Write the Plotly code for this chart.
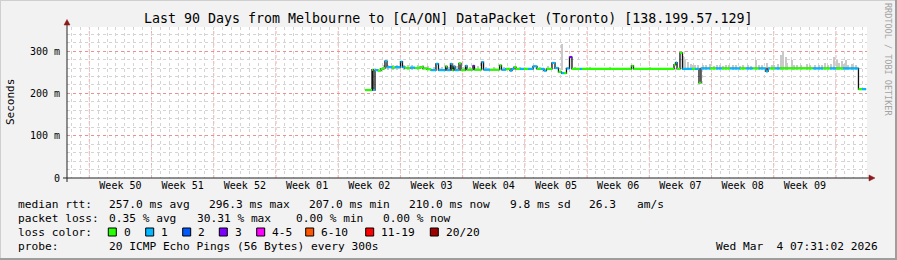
import plotly.graph_objects as go

# ---------------- data ----------------
# median RTT as a step series: segment start (days since graph start), median (ms), loss class index
seg_day = [33.52, 34.31, 34.43, 34.65, 34.99, 35.32, 35.55, 35.77, 36.00, 36.56,
           36.90, 37.52, 37.74, 38.02, 38.59, 39.15, 39.71, 40.05, 40.50, 40.95,
           41.51, 41.79, 42.58, 42.75, 43.14, 43.31, 43.48, 43.65, 44.10, 44.32,
           44.83, 45.00, 45.67, 45.84, 46.63, 46.86, 47.59, 48.66, 48.88, 49.39,
           49.84, 50.06, 50.29, 50.51, 50.96, 51.41, 51.86, 52.43, 52.87, 53.32,
           53.66, 53.94, 54.56, 54.90, 55.29, 55.63, 55.91, 56.19, 56.53, 56.81,
           57.71, 57.94, 63.50, 63.73, 68.29, 68.46, 68.63, 68.96, 69.24, 70.31,
           70.65, 71.10, 71.32, 72.34, 73.01, 73.69, 74.59, 75.71, 76.38, 77.17,
           77.84, 78.63, 78.86, 79.09, 79.65, 80.21, 83.92, 85.05, 85.84, 86.51,
           87.30, 89.04, 89.44]
seg_ms = [208, 256, 208, 255, 254, 258, 260, 276, 262, 261,
          262, 275, 262, 260, 261, 260, 262, 259, 257, 255,
          270, 255, 264, 255, 270, 255, 264, 255, 271, 255,
          265, 256, 265, 256, 274, 256, 256, 266, 256, 258,
          254, 258, 262, 258, 258, 258, 258, 264, 258, 258,
          254, 258, 272, 260, 251, 248, 248, 259, 286, 258,
          258, 258, 265, 258, 268, 273, 258, 296, 258, 258,
          258, 225, 259, 259, 259, 259, 259, 259, 259, 259,
          259, 252, 259, 259, 259, 259, 259, 259, 259, 259,
          259, 210, 210]
seg_loss = [0, 0, 1, 1, 0, 0, 0, 1, 1, 0,
            1, 1, 1, 0, 1, 0, 0, 0, 0, 1,
            1, 1, 0, 1, 1, 0, 1, 1, 0, 0,
            1, 0, 3, 0, 1, 1, 0, 0, 1, 0,
            1, 1, 0, 0, 1, 0, 1, 1, 0, 1,
            1, 0, 1, 1, 0, 1, 0, 1, 3, 0,
            1, 0, 0, 0, 0, 1, 0, 0, 1, 0,
            1, 0, 1, 0, 1, 0, 1, 0, 1, 0,
            1, 1, 1, 0, 1, 0, 1, 0, 1, 0,
            1, 0, 1]
end_day = 89.90

# smoke (spread of the individual pings): day, lower and upper rtt (ms)
smoke_day = [35.66, 36.11, 36.67, 37.12, 37.91, 38.36, 38.81, 39.48, 40.05, 40.61,
             41.29, 42.19, 42.97, 43.87, 44.55, 45.34, 46.24, 47.14, 48.04, 49.16,
             50.96, 53.21, 54.11, 55.72, 57.15, 58.84, 61.09, 65.59,
             69.34, 69.57, 69.85, 70.18, 70.40, 70.65, 71.00, 71.54, 71.90, 72.34,
             72.79, 73.10, 73.46, 73.80, 74.14, 74.50, 74.92, 75.30, 75.71, 76.10,
             76.61, 77.00, 77.59, 77.90, 78.19, 78.72, 79.31, 79.60, 79.99, 80.33,
             80.61, 80.89, 81.00, 81.53, 81.80, 82.13, 82.60, 83.22, 83.60, 84.15,
             84.60, 85.00, 85.28, 85.60, 85.95, 86.29, 86.63, 86.90, 87.19, 87.40,
             87.64, 87.90, 88.31, 88.50, 88.76]
smoke_lo = [256] * len(smoke_day)
smoke_hi = [268, 266, 267, 268, 266, 268, 266, 268, 267, 265,
            262, 262, 263, 264, 262, 263, 264, 262, 263, 262,
            263, 263, 265, 318, 263, 262, 262, 262,
            288, 280, 275, 270, 268, 268, 266, 266, 267, 270,
            265, 267, 268, 265, 266, 267, 268, 266, 265, 267,
            266, 265, 280, 268, 266, 272, 268, 266, 270, 290,
            301, 285, 272, 278, 268, 266, 267, 270, 268, 266,
            267, 268, 272, 266, 270, 285, 280, 272, 276, 270,
            278, 268, 270, 266, 268]

week_bounds = [2.51, 9.51, 16.51, 23.51, 30.51, 37.51, 44.51, 51.51, 58.51,
               65.51, 72.51, 79.51, 86.51]
week_mids = [6.01, 13.01, 20.01, 27.01, 34.01, 41.01, 48.01, 55.01, 62.01,
             69.01, 76.01, 83.01]
week_labels = ["Week 50", "Week 51", "Week 52", "Week 01", "Week 02", "Week 03",
               "Week 04", "Week 05", "Week 06", "Week 07", "Week 08", "Week 09"]

y_tickvals = [0, 100, 200, 300]
y_ticktext = ["0", "100 m", "200 m", "300 m"]

loss_labels = ["0", "1", "2", "3", "4-5", "6-10", "11-19", "20/20"]
loss_colors = ["#26ff00", "#00b8ff", "#0059ff", "#7e00ff", "#ff00ff", "#ff5500",
               "#ff0000", "#a10000"]

title = "Last 90 Days from Melbourne to [CA/ON] DataPacket (Toronto) [138.199.57.129]"
rtt_stats = ["257.0 ms avg", "296.3 ms max", "207.0 ms min", "210.0 ms now",
             "9.8 ms sd", "26.3", "am/s"]
loss_stats = ["0.35 % avg", "30.31 % max", "0.00 % min", "0.00 % now"]
probe_text = "20 ICMP Echo Pings (56 Bytes) every 300s"
stamp_text = "Wed Mar  4 07:31:02 2026"

# ---------------- layout helpers ----------------
W, H = 897, 260
L, R, T, B = 67, 867, 27, 178
FONT = "DejaVu Sans Mono"
LEG = 11.2


def px(x):
    return (x - L) / (R - L)


def py(y):
    return (B - y) / (B - T)


fig = go.Figure()

# smoke
fig.add_trace(go.Bar(
    x=smoke_day, y=[h - l for h, l in zip(smoke_hi, smoke_lo)], base=smoke_lo,
    width=0.16, marker=dict(color="#c9c9c9", line=dict(width=0)),
    hoverinfo="skip", showlegend=False))

# black median step line
fig.add_trace(go.Scatter(
    x=seg_day + [end_day], y=seg_ms + [seg_ms[-1]], mode="lines",
    line=dict(color="#111111", width=1.3, shape="hv"),
    hoverinfo="skip", showlegend=False))

# loss coloured median segments
ends = seg_day[1:] + [end_day]
for k, col in enumerate(loss_colors):
    xs, ys = [], []
    for s, e, m, lc in zip(seg_day, ends, seg_ms, seg_loss):
        if lc == k:
            xs += [s, e, None]
            ys += [m, m, None]
    if xs:
        fig.add_trace(go.Scatter(x=xs, y=ys, mode="lines",
                                 line=dict(color=col, width=2.2),
                                 hoverinfo="skip", showlegend=False))

shapes = []
# week boundary lines (major x grid)
for wb in week_bounds:
    shapes.append(dict(type="line", xref="x", yref="paper", x0=wb, x1=wb, y0=0, y1=1,
                       line=dict(color="rgba(255,90,90,0.55)", width=1, dash="dot"),
                       layer="between"))

# axes lines and arrows
AX = "#222222"
ARR = "#8b1a1a"
shapes += [
    dict(type="line", xref="paper", yref="paper", x0=px(63), x1=px(871), y0=0, y1=0,
         line=dict(color=AX, width=1)),
    dict(type="line", xref="paper", yref="paper", x0=0, x1=0, y0=py(182), y1=py(24),
         line=dict(color=AX, width=1)),
    dict(type="path", xref="paper", yref="paper",
         path=f"M {px(869)},{py(175)} L {px(875)},{py(178)} L {px(869)},{py(181)} Z",
         fillcolor=ARR, line=dict(color=ARR, width=0.5)),
    dict(type="path", xref="paper", yref="paper",
         path=f"M {px(64)},{py(25)} L {px(67)},{py(19.5)} L {px(70)},{py(25)} Z",
         fillcolor=ARR, line=dict(color=ARR, width=0.5)),
]
# outer frame shading
shapes += [
    dict(type="line", xref="paper", yref="paper", x0=px(0), x1=px(897), y0=py(0.5), y1=py(0.5),
         line=dict(color="#cfcfcf", width=1)),
    dict(type="line", xref="paper", yref="paper", x0=px(0.5), x1=px(0.5), y0=py(0), y1=py(260),
         line=dict(color="#cfcfcf", width=1)),
    dict(type="line", xref="paper", yref="paper", x0=px(0), x1=px(897), y0=py(259), y1=py(259),
         line=dict(color="#9e9e9e", width=2)),
    dict(type="line", xref="paper", yref="paper", x0=px(896), x1=px(896), y0=py(0), y1=py(260),
         line=dict(color="#9e9e9e", width=2)),
]

annotations = []


def text(s, x, y, size=LEG, anchor="left", color="#000000", angle=0):
    annotations.append(dict(text=s, x=px(x), y=py(y), xref="paper", yref="paper",
                            xanchor=anchor, yanchor="middle", showarrow=False,
                            textangle=angle,
                            font=dict(family=FONT, size=size, color=color)))


text(title, 448, 19, size=13.3, anchor="center")
text("Seconds", 10.5, 102.5, size=11, anchor="center", angle=-90)
text("RRDTOOL / TOBI OETIKER", 888, 59, size=8.5, anchor="center", color="#a3a3a3", angle=90)

# legend lines
Y1, Y2, Y3, Y4 = 204, 218.3, 232.3, 246
text("median rtt:", 16, Y1)
for s, x in zip(rtt_stats, [107.3, 207.3, 306.7, 406.7, 507.7, 586.7, 635]):
    text(s, x, Y1)
text("packet loss:", 16, Y2)
for s, x in zip(loss_stats, [107.3, 194.5, 293.5, 380.5]):
    text(s, x, Y2)
text("loss color:", 16, Y3)
box_x = [108.3, 145.7, 182.7, 219.3, 256.7, 305.7, 365.7, 430.3]
for lab, col, bx in zip(loss_labels, loss_colors, box_x):
    shapes.append(dict(type="rect", xref="paper", yref="paper",
                       x0=px(bx), x1=px(bx + 8), y0=py(236), y1=py(228),
                       fillcolor=col, line=dict(color="#000000", width=1)))
    text(lab, bx + 13.7, Y3)
text("probe:", 16, Y4)
text(probe_text, 107.3, Y4)
text(stamp_text, 880, Y4, anchor="right")

fig.update_layout(
    width=W, height=H,
    margin=dict(l=L, r=W - R, t=T, b=H - B, pad=0),
    paper_bgcolor="#f2f2f2", plot_bgcolor="#ffffff",
    showlegend=False, bargap=0,
    shapes=shapes, annotations=annotations,
    xaxis=dict(range=[0, 90], showgrid=False, zeroline=False, showline=False,
               tickmode="array", tickvals=week_mids, ticktext=week_labels,
               ticks="", tickfont=dict(family=FONT, size=10, color="#000000"),
               minor=dict(tick0=week_bounds[0], dtick=1, showgrid=True,
                          gridcolor="#d4d4d4", griddash="dot", gridwidth=1),
               fixedrange=True),
    yaxis=dict(range=[0, 357], zeroline=False, showline=False,
               tickmode="array", tickvals=y_tickvals, ticktext=y_ticktext,
               showgrid=True, gridcolor="rgba(255,90,90,0.55)", griddash="dot", gridwidth=1,
               ticks="outside", ticklen=4, tickcolor="rgba(0,0,0,0)",
               tickfont=dict(family=FONT, size=10, color="#000000"),
               minor=dict(tick0=0, dtick=20, showgrid=True,
                          gridcolor="#d4d4d4", griddash="dot", gridwidth=1),
               fixedrange=True),
)

fig.write_html("out.html")
